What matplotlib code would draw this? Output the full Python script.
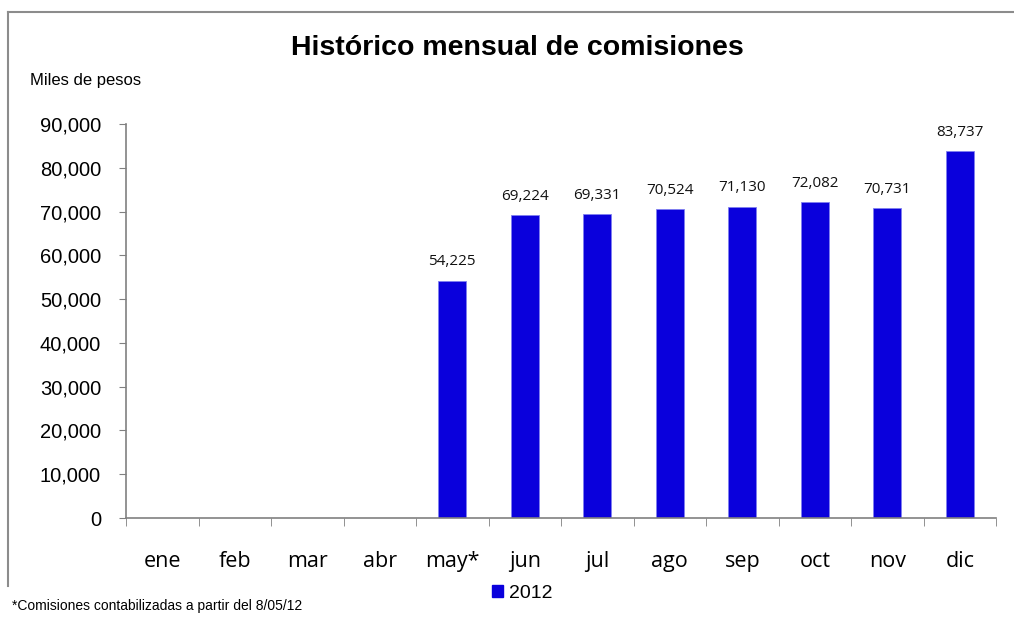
import numpy as np
import matplotlib.pyplot as plt
from matplotlib.patches import Rectangle
from matplotlib.lines import Line2D

# datos: comisiones mensuales 2012 (miles de pesos)
meses = ['ene', 'feb', 'mar', 'abr', 'may*', 'jun', 'jul', 'ago', 'sep', 'oct', 'nov', 'dic']
valores = [np.nan, np.nan, np.nan, np.nan, 54225, 69224, 69331, 70524, 71130, 72082, 70731, 83737]
serie = '2012'
yticks = [0, 10000, 20000, 30000, 40000, 50000, 60000, 70000, 80000, 90000]

azul = '#0A00DC'
gris = '#808080'

fig = plt.figure(figsize=(10.14, 6.23), dpi=100)
ax = fig.add_axes([0.1243, 0.1685, 0.858, 0.6325])

x = np.arange(len(meses))
barras = ax.bar(x, np.nan_to_num(valores), width=0.39, color=azul,
                edgecolor='#8080F0', linewidth=0.6)

for xi, v in zip(x, valores):
    if not np.isnan(v):
        ax.text(xi, v + 2600, f'{v:,.0f}', ha='center', va='bottom',
                fontsize=11, family='Open Sans', color='#111111')

ax.set_xlim(-0.5, len(meses) - 0.5)
ax.set_ylim(0, 90000)
ax.set_yticks(yticks)
ax.set_yticklabels([f'{t:,}' for t in yticks], family='Liberation Sans', fontsize=14.5)
ax.set_xticks(x)
ax.set_xticklabels(meses, family='Open Sans', fontsize=15.5)
ax.set_xticks(np.arange(-0.5, len(meses)), minor=True)
ax.tick_params(axis='x', which='major', length=0, pad=24)
ax.tick_params(axis='x', which='minor', length=6, color=gris, direction='out')
ax.tick_params(axis='y', length=5, color=gris, pad=13)

for s in ['top', 'right']:
    ax.spines[s].set_visible(False)
for s in ['left', 'bottom']:
    ax.spines[s].set_color(gris)
    ax.spines[s].set_linewidth(1.2)

fig.text(0.51, 0.923, 'Histórico mensual de comisiones', ha='center', va='center',
         fontsize=20.5, fontweight='bold', family='Liberation Sans')
fig.text(0.030, 0.871, 'Miles de pesos', ha='left', va='center',
         fontsize=12, family='Liberation Sans')
fig.text(0.012, 0.027, '*Comisiones contabilizadas a partir del 8/05/12', ha='left',
         va='center', fontsize=10, family='Liberation Sans')

# leyenda
fig.legend([Rectangle((0, 0), 1, 1, color=azul)], [serie], loc='center',
           bbox_to_anchor=(0.515, 0.048), frameon=False, handlelength=0.6,
           handleheight=0.6, handletextpad=0.3, prop={'family': 'Liberation Sans', 'size': 14})

# marco del gráfico
fig.add_artist(Line2D([8 / 1014, 1.0], [1 - 12 / 623, 1 - 12 / 623], color='#8c8c8c', lw=1.5))
fig.add_artist(Line2D([8 / 1014, 8 / 1014], [1 - 12 / 623, 1 - 586 / 623], color='#8c8c8c', lw=1.5))

fig.savefig('out.png', dpi=100)
